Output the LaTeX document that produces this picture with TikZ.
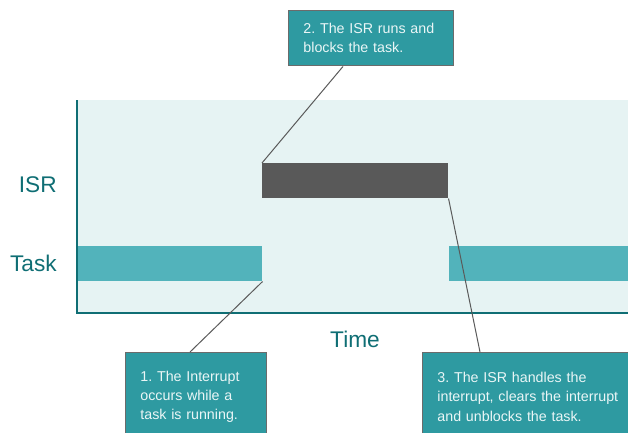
\documentclass[tikz,border=0pt]{standalone}
\usepackage{fontspec}
\setmainfont{Liberation Sans}
\usetikzlibrary{calc}
\definecolor{panel}{HTML}{E6F3F3}
\definecolor{axisc}{HTML}{0F6E74}
\definecolor{isrc}{HTML}{595959}
\definecolor{taskc}{HTML}{52B3BB}
\definecolor{boxc}{HTML}{2E9AA1}
\definecolor{boxb}{HTML}{6B6B6B}
\definecolor{boxt}{HTML}{EAF6F6}
\definecolor{linec}{HTML}{5A5A5A}
\frenchspacing
\tikzset{
  bar/.style={draw=none, inner sep=0pt, anchor=north west, minimum height=26.25pt},
  isrbar/.style={bar, fill=isrc},
  taskbar/.style={bar, fill=taskc},
  axislabel/.style={text=axisc, font=\fontsize{17}{20}\selectfont, inner sep=0pt},
  callout/.style={draw=boxb, line width=1.1pt, fill=boxc, text=boxt, anchor=north west,
    align=left, inner xsep=11pt, inner ysep=4pt,
    font=\fontsize{10.7}{14.5}\selectfont},
  conn/.style={draw=linec, line width=0.75pt},
  axisline/.style={draw=axisc, line width=1.6pt}
}
\begin{document}
\begin{tikzpicture}[x=0.75pt,y=-0.75pt]
\useasboundingbox (0,0) rectangle (628,432);
% panel
\fill[panel] (77,100) rectangle (628,313);
% bars
\node[isrbar, minimum width=139.5pt] (isr) at (262,163) {};
\node[taskbar, minimum width=138.75pt] (task1) at (77,246) {};
\node[taskbar, minimum width=134.5pt] (task2) at (449,246) {};
% axes
\draw[axisline] (77,100) |- (628,313);
% labels
\node[axislabel, anchor=east] (lisr) at (57,185) {ISR};
\node[axislabel, anchor=east] (ltask) at (57,263) {Task};
\node[axislabel] (ltime) at (355,339) {Time};
% callouts
\node[callout, text width=101.75pt, minimum height=41.25pt] (b2) at (288,10)
  {2. The ISR runs and\\blocks the task.};
\node[callout, text width=83.75pt, minimum height=66pt] (b1) at (125,352)
  {1. The Interrupt\\occurs while a\\task is running.};
\node[callout, text width=150pt, minimum height=66pt] (b3) at (422,352)
  {3. The ISR handles the\\interrupt, clears the interrupt\\and unblocks the task.};
% connectors
\draw[conn] ($(b2.south west)+(55,0)$) -- (isr.north west);
\draw[conn] (task1.south east) -- ($(b1.north west)+(65,0)$);
\draw[conn] (isr.south east) -- ($(b3.north west)+(58,0)$);
\end{tikzpicture}
\end{document}
